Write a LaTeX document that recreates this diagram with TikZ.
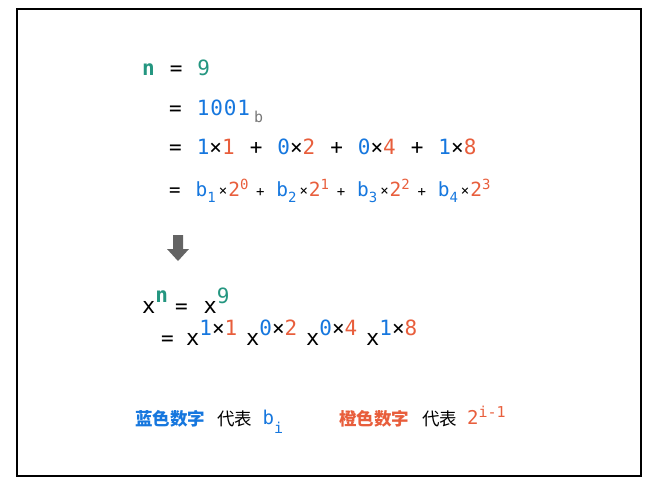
\documentclass[tikz,border=0pt]{standalone}
\usepackage{fontspec}
\setmainfont{DejaVu Sans Mono}
\newfontfamily\wide{DejaVu Sans Mono}[LetterSpace=4.1, WordSpace=1.11]
\newfontfamily\cjk{Noto Sans CJK SC}
\newcommand\sz[1]{\fontsize{#1}{#1}\selectfont}
\newcommand\bl[1]{\textcolor{numblue}{#1}}
\newcommand\og[1]{\textcolor{numorange}{#1}}
\begin{document}
\begin{tikzpicture}[x=1pt, y=-1pt, txt/.style={anchor=base west, inner sep=0pt}]
  \definecolor{numblue}{RGB}{22,119,222}
  \definecolor{numorange}{RGB}{232,94,60}
  \definecolor{numteal}{RGB}{36,150,128}
  \definecolor{subgray}{RGB}{120,120,120}
  \definecolor{arrowgray}{RGB}{100,100,100}
  \useasboundingbox (0,0) rectangle (662,493);
  \draw[line width=1.5pt] (17,9) rectangle (641,476);
  % n in binary
  \node[txt] (nval) at (142,75.5) {\sz{21}\wide\textcolor{numteal}{\bfseries n} = \textcolor{numteal}{9}};
  \node[txt] (nbin) at (169,115) {\sz{21}\wide = \bl{1001}};
  \node[txt, subgray] (bmark) at (254,122) {\sz{15}b};
  \node[txt] (nsum) at (169,154.5) {\sz{21}\wide = \bl{1}×\og{1} + \bl{0}×\og{2} + \bl{0}×\og{4} + \bl{1}×\og{8}};
  \node[txt] (npoweq) at (169,196) {\sz{19}=};
  \foreach \i/\e in {1/0,2/1,3/2,4/3}
    \node[txt] (term\i) at ({195.5+80.7*(\i-1)},196)
      {\sz{19.5}\bl{b\raisebox{-6pt}{\sz{14}\i}}\hspace{3pt}\raisebox{1pt}{\sz{14}×}\hspace{1pt}\og{2\raisebox{6.5pt}{\sz{14}\e}}};
  \foreach \i in {1,2,3}
    \node[txt] (plus\i) at ({256+80.7*(\i-1)},196) {\sz{14}+};
  % arrow
  \fill[arrowgray] (173,235) -- (183,235) -- (183,249) -- (189,249) -- (178,261)
    -- (167,249) -- (173,249) -- cycle;
  % x to the n
  \node[txt] (xn) at (142,313) {\sz{22}x\raisebox{10.5pt}{\sz{21}\bfseries\textcolor{numteal}{n}}\hspace{7pt}\sz{21}=\hspace{16pt}\sz{22}x\raisebox{10pt}{\sz{21}\textcolor{numteal}{9}}};
  \node[txt] (xeq) at (161,345) {\sz{21}=};
  \foreach \a/\p [count=\k] in {1/1,0/2,0/4,1/8}
    \node[txt] (grp\k) at ({186+60*(\k-1)},345)
      {\sz{22}x\raisebox{10pt}{\sz{21}\wide\bl{\a}×\og{\p}}};
  % legend
  \node[txt] (bluelbl) at (135,425) {\cjk\sz{17.5}\bfseries\bl{蓝色数字}};
  \node[txt] (bluemean) at (217,425) {\cjk\sz{17.5}代表};
  \node[txt] (bival) at (262.5,424) {\sz{19}\bl{b\raisebox{-9pt}{\sz{15}i}}};
  \node[txt] (orangelbl) at (339,425) {\cjk\sz{17.5}\bfseries\og{橙色数字}};
  \node[txt] (orangemean) at (422,425) {\cjk\sz{17.5}代表};
  \node[txt] (pval) at (467,424) {\sz{19}\og{2\raisebox{7pt}{\sz{15}i-1}}};
\end{tikzpicture}
\end{document}
